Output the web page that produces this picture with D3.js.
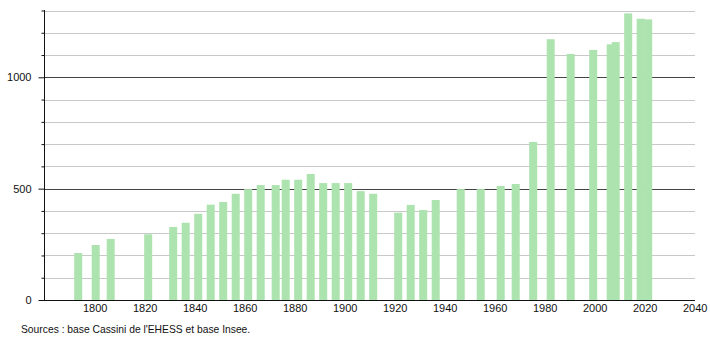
<!DOCTYPE html>
<html>
<head>
<meta charset="utf-8">
<script src="https://cdn.jsdelivr.net/npm/d3@7"></script>
<style>
  body { margin: 0; background: #fff; }
  text { font-family: "Liberation Sans", Arial, sans-serif; font-size: 11px; fill: #111; }
</style>
</head>
<body>
<div id="chart"></div>
<script>
// Census years and population
const years = [1793, 1800, 1806, 1821, 1831, 1836, 1841, 1846, 1851, 1856,
  1861, 1866, 1872, 1876, 1881, 1886, 1891, 1896, 1901, 1906,
  1911, 1921, 1926, 1931, 1936, 1946, 1954, 1962, 1968, 1975,
  1982, 1990, 1999, 2006, 2008, 2013, 2018, 2021]
const population = [211, 247, 274, 295, 328, 347, 387, 428, 440, 477,
  498, 516, 516, 540, 540, 566, 525, 525, 525, 489,
  477, 392, 427, 404, 449, 498, 498, 512, 521, 710,
  1171, 1105, 1123, 1148, 1158, 1287, 1263, 1260]
const xTicks = [1800, 1820, 1840, 1860, 1880, 1900, 1920, 1940, 1960, 1980, 2000, 2020, 2040]
const yTicks = [0, 100, 200, 300, 400, 500, 600, 700, 800, 900, 1000, 1100, 1200, 1300]
const yLabels = [0, 500, 1000]
const source = "Sources : base Cassini de l'EHESS et base Insee."

const width = 710, height = 340
const plotLeft = 44, plotRight = 695, plotTop = 10, plotBottom = 300
const barWidth = 8

const svg = d3.select("#chart").append("svg")
  .attr("width", width)
  .attr("height", height)

const xScale = d3.scaleLinear().domain([1780, 2040]).range([plotLeft + 0.7, plotRight - 0.3])
const yScale = d3.scaleLinear().domain([0, 1300]).range([plotBottom, plotTop + 0.5])

// Gridlines: light every 100, dark every 500
svg.append("g")
  .selectAll("line")
  .data(yTicks.filter(d => d > 0))
  .join("line")
  .attr("x1", plotLeft)
  .attr("x2", plotRight)
  .attr("y1", d => Math.round(yScale(d)) + 0.5)
  .attr("y2", d => Math.round(yScale(d)) + 0.5)
  .attr("stroke", d => d % 500 === 0 ? "#444" : "#c8c8c8")
  .attr("stroke-width", 1)

// Bars
svg.append("g")
  .selectAll("rect")
  .data(years)
  .join("rect")
  .attr("x", d => xScale(d) - barWidth / 2 + 1)
  .attr("y", (d, i) => yScale(population[i]))
  .attr("width", barWidth)
  .attr("height", (d, i) => yScale(0) - yScale(population[i]))
  .attr("fill", "#ade3ae")

// Y axis
const yAxis = d3.axisLeft(yScale)
  .tickValues(yTicks)
  .tickSize(3)
  .tickFormat(d => yLabels.includes(d) ? d : "")
svg.append("g")
  .attr("transform", "translate(" + (plotLeft + 0.5) + ",0)")
  .call(yAxis)
  .call(g => g.select(".domain").attr("stroke", "#111").attr("d", "M0," + plotTop + "V" + plotBottom))
  .call(g => g.selectAll(".tick line").attr("stroke", "#111")
    .attr("x2", d => d % 500 === 0 ? -6 : -3))
  .call(g => g.selectAll(".tick text").attr("x", -13).style("font-size", "11px"))

// X axis
const xAxis = d3.axisBottom(xScale)
  .tickValues(xTicks)
  .tickSize(0)
  .tickFormat(d3.format("d"))
svg.append("g")
  .attr("transform", "translate(0," + (plotBottom + 0.5) + ")")
  .call(xAxis)
  .call(g => g.select(".domain").attr("stroke", "#111").attr("d", "M" + (plotLeft - 4) + ",0H" + plotRight))
  .call(g => g.selectAll(".tick text").attr("y", 4).style("font-size", "11px"))

// Source note
svg.append("text")
  .attr("x", 21)
  .attr("y", 333)
  .style("font-size", "10.3px")
  .text(source)
</script>
</body>
</html>
